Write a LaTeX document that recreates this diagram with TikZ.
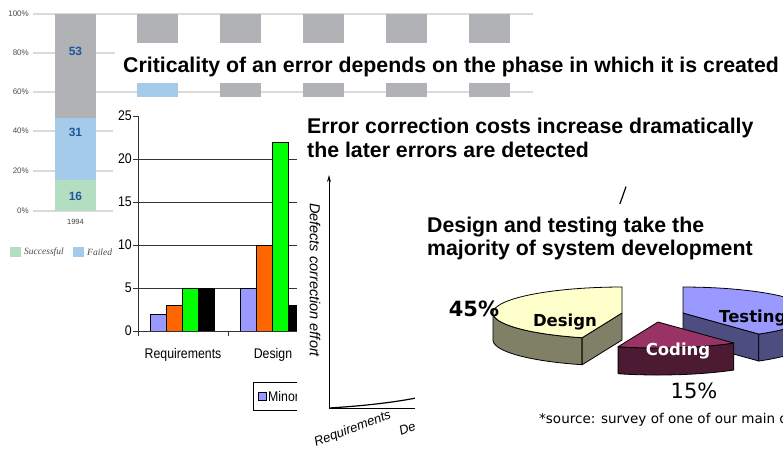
\documentclass[tikz,border=0pt]{standalone}
\usepackage{fontspec}
\setmainfont{Liberation Sans}
\newfontfamily\verdana{DejaVu Sans}
\newfontfamily\minion{Liberation Serif}
\usetikzlibrary{arrows.meta}
\definecolor{ChaosGray}{RGB}{177,178,181}
\definecolor{ChaosBlue}{RGB}{165,203,235}
\definecolor{ChaosGreen}{RGB}{179,222,193}
\definecolor{ChaosText}{RGB}{30,85,155}
\definecolor{GridGray}{RGB}{218,218,218}
\definecolor{MinorBlue}{RGB}{153,153,255}
\definecolor{MajorOrange}{RGB}{255,102,0}
\definecolor{CritGreen}{RGB}{0,255,0}
\definecolor{DesignTop}{RGB}{255,255,204}
\definecolor{DesignSide}{RGB}{128,128,102}
\definecolor{CodingTop}{RGB}{153,51,102}
\definecolor{CodingSide}{RGB}{77,26,51}
\definecolor{TestingTop}{RGB}{153,153,255}
\definecolor{TestingSide}{RGB}{77,77,128}
\newcommand{\fsz}[1]{\fontsize{#1}{#1}\selectfont}
\tikzset{
  slidetitle/.style={anchor=base west, inner sep=0pt, font=\fsz{21.3}\bfseries},
  pctlabel/.style={anchor=east, inner sep=0pt, text=black!70, font=\fsz{8}},
  chaosnum/.style={inner sep=0pt, text=ChaosText, font=\fsz{12}\bfseries},
  chartlabel/.style={inner sep=0pt, xscale=0.88, font=\fsz{14}},
  defectbar/.style={draw=black, line width=0.6pt},
  pieline/.style={draw=black, line width=0.8pt, line join=round},
  pielabel/.style={inner sep=0pt, font=\verdana\fsz{16.5}\bfseries}
}

\begin{document}
\begin{tikzpicture}[x=1pt, y=-1pt]
\pgfmathsetmacro{\prx}{129} % pie x radius
\pgfmathsetmacro{\pry}{26} % pie y radius
\pgfmathsetmacro{\pied}{27} % pie depth
\useasboundingbox (0,0) rectangle (783,451);
\clip (0,0) rectangle (783,451);
\fill[white] (0,0) rectangle (783,451); % page

% ---- slide 1: project results chart
\draw[GridGray, line width=1.3pt] (33,14) -- (533,14); % 100%
\draw[GridGray, line width=1.3pt] (33,53) -- (533,53); % 80%
\draw[GridGray, line width=1.3pt] (33,92) -- (533,92); % 60%
\draw[GridGray, line width=1.3pt] (33,131) -- (533,131); % 40%
\draw[GridGray, line width=1.3pt] (33,171) -- (533,171); % 20%
\draw[GridGray, line width=1.3pt] (33,211) -- (533,211); % 0%
\node[pctlabel] (pctHundred) at (29,14) {100\%};
\node[pctlabel] (pctEighty) at (29,53) {80\%};
\node[pctlabel] (pctSixty) at (29,92) {60\%};
\node[pctlabel] (pctForty) at (29,131) {40\%};
\node[pctlabel] (pctTwenty) at (29,171) {20\%};
\node[pctlabel] (pctZero) at (29,211) {0\%};

\fill[ChaosGray] (55,14) rectangle (96,118); % 1994 challenged
\fill[ChaosBlue] (55,118) rectangle (96,180); % 1994 failed
\fill[ChaosGreen] (55,180) rectangle (96,211); % 1994 successful
\node[chaosnum] (numGray) at (75.5,51) {53};
\node[chaosnum] (numBlue) at (75.5,132) {31};
\node[chaosnum] (numGreen) at (75.5,196) {16};
\node[inner sep=0pt, text=black!75, font=\fsz{7.5}] (year) at (75.5,222) {1994};

\fill[ChaosGray] (137,14) rectangle (178,70);
\fill[ChaosBlue] (137,70) rectangle (178,97);
\fill[ChaosGray] (220,14) rectangle (261,97);
\fill[ChaosGray] (303,14) rectangle (344,97);
\fill[ChaosGray] (386,14) rectangle (427,97);
\fill[ChaosGray] (469,14) rectangle (510,97);

\fill[ChaosGreen] (10,247) rectangle (21,257); % legend
\node[anchor=west, inner sep=0pt, text=black!70, font=\minion\itshape\fsz{9.5}] (legSuccess) at (24,252) {Successful};
\fill[ChaosBlue] (73,247) rectangle (84,257);
\node[anchor=west, inner sep=0pt, text=black!70, font=\minion\itshape\fsz{9.5}] (legFailed) at (87,252) {Failed};

% ---- title strip
\fill[white] (115,43) rectangle (783,83);
\node[slidetitle] (titleCrit) at (123,72) {Criticality of an error depends on the phase in which it is created};

% ---- slide 2: defects per phase
\fill[white] (113,97) rectangle (297,415);
\draw[black!80, line width=0.8pt] (138,159) -- (310,159); % 20
\draw[black!80, line width=0.8pt] (138,202) -- (310,202); % 15
\draw[black!80, line width=0.8pt] (138,245) -- (310,245); % 10
\draw[black!80, line width=0.8pt] (138,288) -- (310,288); % 5

\filldraw[defectbar, fill=MinorBlue] (150,314) rectangle (166,331); % requirements
\filldraw[defectbar, fill=MajorOrange] (166,305) rectangle (182,331);
\filldraw[defectbar, fill=CritGreen] (182,288) rectangle (198,331);
\filldraw[defectbar, fill=black] (198,288) rectangle (214,331);
\filldraw[defectbar, fill=MinorBlue] (240,288) rectangle (256,331); % design
\filldraw[defectbar, fill=MajorOrange] (256,245) rectangle (272,331);
\filldraw[defectbar, fill=CritGreen] (272,142) rectangle (288,331);
\filldraw[defectbar, fill=black] (288,305) rectangle (304,331);

\draw[black!80, line width=0.8pt] (138,116) -- (138,331) -- (310,331); % axes
\draw[black!80, line width=0.8pt] (133,116) -- (138,116);
\draw[black!80, line width=0.8pt] (133,159) -- (138,159);
\draw[black!80, line width=0.8pt] (133,202) -- (138,202);
\draw[black!80, line width=0.8pt] (133,245) -- (138,245);
\draw[black!80, line width=0.8pt] (133,288) -- (138,288);
\draw[black!80, line width=0.8pt] (133,331) -- (138,331) -- (138,336);
\draw[black!80, line width=0.8pt] (228,331) -- (228,336);
\node[chartlabel, anchor=east] (tickTwentyfive) at (132,116) {25};
\node[chartlabel, anchor=east] (tickTwenty) at (132,159) {20};
\node[chartlabel, anchor=east] (tickFifteen) at (132,202) {15};
\node[chartlabel, anchor=east] (tickTen) at (132,245) {10};
\node[chartlabel, anchor=east] (tickFive) at (132,288) {5};
\node[chartlabel, anchor=east] (tickZero) at (132,331) {0};
\node[chartlabel] (catReq) at (183,355) {Requirements};
\node[chartlabel] (catDesign) at (273,355) {Design};

\draw[black, line width=0.8pt] (253,382) rectangle (320,410); % legend box
\filldraw[defectbar, fill=MinorBlue] (258,392) rectangle (266,400);
\node[chartlabel, anchor=west] (legMinor) at (268,396) {Minor};

% ---- slide 3: correction effort
\fill[white] (297,100) rectangle (783,451);
\node[slidetitle] (titleCostA) at (307,133) {Error correction costs increase dramatically};
\node[slidetitle] (titleCostB) at (307,157) {the later errors are detected};
\coordinate (origin) at (329,408);
\coordinate (yTop) at (329,175);
\coordinate (xEnd) at (430,408);
\draw[line width=1pt, -{Stealth[length=7pt, width=4pt]}] (origin) -- (yTop);
\draw[line width=1pt] (origin) -- (xEnd);
\draw[line width=1.2pt] plot[domain=0:297, samples=80] ({329+\x},{408-4.76*(exp(0.013*\x)-1)}); % effort curve
\node[rotate=-90, inner sep=0pt, font=\fsz{14.5}\itshape] (effort) at (315,280) {Defects correction effort};
\node[rotate=21, anchor=base west, inner sep=0pt, font=\fsz{13}\itshape] (axReq) at (316,447) {Requirements};
\node[rotate=21, anchor=base west, inner sep=0pt, font=\fsz{13}\itshape] (axDesign) at (401,436) {De};

% ---- slide 4: effort share pie
\fill[white] (415,204) rectangle (783,451);
\node[slidetitle] (titleShareA) at (427,232) {Design and testing take the};
\node[slidetitle] (titleShareB) at (427,255) {majority of system development};

% testing slice
\filldraw[pieline, fill=TestingSide] (683,313) -- ({683+\prx*cos(306)},{313-\pry*sin(306)}) -- ++(0,\pied) -- (683,{313+\pied}) -- cycle;
\filldraw[pieline, fill=TestingSide] plot[domain=-54:0, samples=20] ({683+\prx*cos(\x)},{313-\pry*sin(\x)}) -- plot[domain=0:-54, samples=20] ({683+\prx*cos(\x)},{313+\pied-\pry*sin(\x)}) -- cycle;
\filldraw[pieline, fill=TestingTop] (683,313) -- plot[domain=-54:90, samples=40] ({683+\prx*cos(\x)},{313-\pry*sin(\x)}) -- cycle;

% design slice
\filldraw[pieline, fill=DesignSide] plot[domain=180:252, samples=20] ({622+\prx*cos(\x)},{313-\pry*sin(\x)}) -- plot[domain=252:180, samples=20] ({622+\prx*cos(\x)},{313+\pied-\pry*sin(\x)}) -- cycle;
\filldraw[pieline, fill=DesignSide] (622,313) -- ({622+\prx*cos(252)},{313-\pry*sin(252)}) -- ++(0,\pied) -- (622,{313+\pied}) -- cycle;
\filldraw[pieline, fill=DesignTop] (622,313) -- plot[domain=90:252, samples=40] ({622+\prx*cos(\x)},{313-\pry*sin(\x)}) -- cycle;

% coding slice
\filldraw[pieline, fill=CodingSide] plot[domain=252:306, samples=20] ({658+\prx*cos(\x)},{322-\pry*sin(\x)}) -- plot[domain=306:252, samples=20] ({658+\prx*cos(\x)},{322+\pied-\pry*sin(\x)}) -- cycle;
\filldraw[pieline, fill=CodingTop] (658,322) -- plot[domain=252:306, samples=20] ({658+\prx*cos(\x)},{322-\pry*sin(\x)}) -- cycle;

\node[pielabel] (lblDesign) at (565,322) {Design};
\node[pielabel, text=white] (lblCoding) at (678,351) {Coding};
\node[pielabel, anchor=west] (lblTesting) at (719,318) {Testing};
\node[inner sep=0pt, font=\verdana\fsz{21}\bfseries] (pctDesign) at (474,309) {45\%};
\node[inner sep=0pt, font=\verdana\fsz{21}] (pctCoding) at (694,391) {15\%};
\node[anchor=west, inner sep=0pt, font=\verdana\fsz{13.5}] (source) at (539,420) {*source: survey of one of our main customers};
\end{tikzpicture}
\end{document}
